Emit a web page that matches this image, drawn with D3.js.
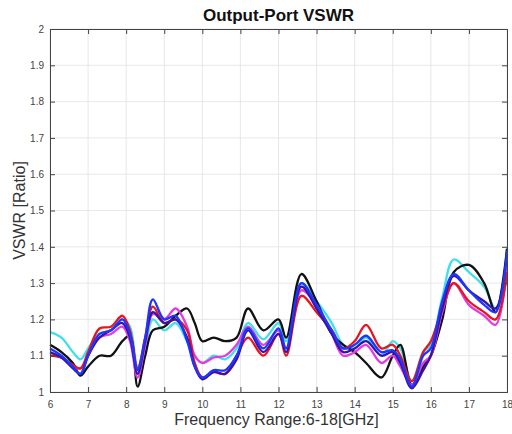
<!DOCTYPE html>
<html>
<head>
<meta charset="utf-8">
<script src="https://cdn.jsdelivr.net/npm/d3@7"></script>
<style>
  body { margin: 0; background: #fff; }
  text { font-family: "Liberation Sans", Arial, sans-serif; }
</style>
</head>
<body>
<div id="chart"></div>
<script>
// frequency points (GHz) shared by all traces
var freq = [6, 6.3, 6.6, 6.8, 7, 7.3, 7.6, 7.9, 8.1, 8.3, 8.5, 8.7, 9, 9.3, 9.6, 9.8, 10, 10.3, 10.6, 10.9,
  11.2, 11.6, 12, 12.2, 12.6, 13, 13.4, 13.7, 14, 14.3, 14.7, 15, 15.2, 15.5, 15.8, 16, 16.3, 16.6, 17, 17.4, 17.7, 18];

var black = [1.13, 1.11, 1.08, 1.045, 1.07, 1.10, 1.10, 1.14, 1.155, 1.015, 1.10, 1.17, 1.18, 1.21, 1.23, 1.19, 1.14, 1.15, 1.14, 1.15,
  1.23, 1.17, 1.20, 1.15, 1.325, 1.25, 1.16, 1.13, 1.11, 1.08, 1.04, 1.10, 1.13, 1.02, 1.07, 1.10, 1.20, 1.33, 1.35, 1.30, 1.22, 1.395];
var red = [1.10, 1.095, 1.075, 1.065, 1.11, 1.175, 1.18, 1.21, 1.17, 1.065, 1.15, 1.235, 1.19, 1.20, 1.17, 1.08, 1.04, 1.055, 1.05, 1.10,
  1.15, 1.10, 1.16, 1.10, 1.265, 1.22, 1.17, 1.12, 1.14, 1.185, 1.12, 1.13, 1.10, 1.03, 1.11, 1.14, 1.23, 1.30, 1.25, 1.22, 1.20, 1.33];
var cyan = [1.165, 1.15, 1.11, 1.09, 1.12, 1.16, 1.17, 1.20, 1.18, 1.07, 1.12, 1.20, 1.17, 1.19, 1.14, 1.10, 1.08, 1.10, 1.09, 1.12,
  1.19, 1.145, 1.19, 1.14, 1.30, 1.25, 1.19, 1.13, 1.12, 1.15, 1.10, 1.14, 1.12, 1.03, 1.11, 1.13, 1.26, 1.365, 1.33, 1.29, 1.23, 1.31];
var blue = [1.12, 1.10, 1.07, 1.05, 1.10, 1.16, 1.17, 1.20, 1.16, 1.06, 1.15, 1.255, 1.20, 1.21, 1.14, 1.07, 1.04, 1.06, 1.06, 1.10,
  1.175, 1.12, 1.175, 1.12, 1.30, 1.24, 1.17, 1.12, 1.13, 1.155, 1.11, 1.115, 1.09, 1.015, 1.10, 1.12, 1.25, 1.325, 1.28, 1.24, 1.22, 1.39];
var magenta = [1.10, 1.095, 1.07, 1.065, 1.10, 1.15, 1.16, 1.18, 1.14, 1.04, 1.13, 1.215, 1.20, 1.23, 1.18, 1.10, 1.08, 1.095, 1.10, 1.13,
  1.18, 1.13, 1.17, 1.12, 1.28, 1.24, 1.16, 1.10, 1.11, 1.13, 1.08, 1.10, 1.07, 1.02, 1.08, 1.10, 1.22, 1.30, 1.24, 1.21, 1.185, 1.34];
var navy = [1.11, 1.095, 1.065, 1.05, 1.10, 1.15, 1.17, 1.19, 1.15, 1.05, 1.14, 1.22, 1.19, 1.20, 1.15, 1.07, 1.035, 1.055, 1.05, 1.09,
  1.17, 1.11, 1.16, 1.11, 1.29, 1.23, 1.16, 1.11, 1.12, 1.14, 1.10, 1.11, 1.08, 1.01, 1.06, 1.10, 1.23, 1.32, 1.28, 1.25, 1.23, 1.38];

var xTicks = [6, 7, 8, 9, 10, 11, 12, 13, 14, 15, 16, 17, 18];
var yTicks = [1, 1.1, 1.2, 1.3, 1.4, 1.5, 1.6, 1.7, 1.8, 1.9, 2];

var series = [
  { name: "cyan", values: cyan, color: "#40e0e6" },
  { name: "black", values: black, color: "#111111" },
  { name: "magenta", values: magenta, color: "#e03ce0" },
  { name: "red", values: red, color: "#e8141e" },
  { name: "navy", values: navy, color: "#3a12a8" },
  { name: "blue", values: blue, color: "#1a36ff" }
];

var svgWidth = 512, svgHeight = 434;
var margin = { top: 29, right: 5, bottom: 42, left: 50 };
var width = svgWidth - margin.left - margin.right;
var height = svgHeight - margin.top - margin.bottom;

var svg = d3.select("#chart").append("svg")
  .attr("width", svgWidth)
  .attr("height", svgHeight);

var g = svg.append("g")
  .attr("transform", `translate(${margin.left}, ${margin.top})`);

var x = d3.scaleLinear().domain([6, 18]).range([0, width]);
var y = d3.scaleLinear().domain([1, 2]).range([height, 0]);

// grid
g.append("g").selectAll("line").data(xTicks).enter().append("line")
  .attr("x1", d => x(d)).attr("x2", d => x(d))
  .attr("y1", 0).attr("y2", height)
  .attr("stroke", "#e2e2e2").attr("stroke-width", 0.8);
g.append("g").selectAll("line").data(yTicks).enter().append("line")
  .attr("y1", d => y(d)).attr("y2", d => y(d))
  .attr("x1", 0).attr("x2", width)
  .attr("stroke", "#e2e2e2").attr("stroke-width", 0.8);

// traces
var line = d3.line()
  .x((d, i) => x(freq[i]))
  .y(d => y(d))
  .curve(d3.curveCatmullRom.alpha(0.5));

var plot = g.append("g");
series.forEach(function (s) {
  plot.append("path")
    .datum(s.values)
    .attr("d", line)
    .attr("fill", "none")
    .attr("stroke", s.color)
    .attr("stroke-width", 2.3)
    .attr("stroke-linejoin", "round");
});

// axes, MATLAB style: ticks inward, box around
var bottomAxis = d3.axisBottom(x).tickValues(xTicks).tickSize(-5).tickPadding(9).tickFormat(d3.format("d"));
var leftAxis = d3.axisLeft(y).tickValues(yTicks).tickSize(-5).tickPadding(6).tickFormat(d => d3.format("")(+d.toFixed(1)));
var topAxis = d3.axisTop(x).tickValues(xTicks).tickSize(-5).tickFormat("");
var rightAxis = d3.axisRight(y).tickValues(yTicks).tickSize(-5).tickFormat("");

function styleAxis(sel) {
  sel.select(".domain").attr("stroke", "#444").attr("stroke-width", 1);
  sel.selectAll(".tick line").attr("stroke", "#444");
  sel.selectAll("text").attr("fill", "#444").attr("font-size", 10);
}

g.append("g").attr("transform", `translate(0, ${height})`).call(bottomAxis).call(styleAxis);
g.append("g").call(leftAxis).call(styleAxis);
g.append("g").call(topAxis).call(styleAxis);
g.append("g").attr("transform", `translate(${width}, 0)`).call(rightAxis).call(styleAxis);

// title and axis labels
svg.append("text")
  .attr("x", margin.left + width / 2)
  .attr("y", 21)
  .attr("text-anchor", "middle")
  .attr("font-size", 17)
  .attr("font-weight", "bold")
  .attr("fill", "#111")
  .text("Output-Port VSWR");

svg.append("text")
  .attr("x", margin.left + width / 2 - 2)
  .attr("y", 425)
  .attr("text-anchor", "middle")
  .attr("font-size", 16)
  .attr("fill", "#333")
  .text("Frequency Range:6-18[GHz]");

svg.append("text")
  .attr("transform", `translate(25, ${margin.top + height / 2}) rotate(-90)`)
  .attr("text-anchor", "middle")
  .attr("font-size", 16)
  .attr("fill", "#333")
  .text("VSWR [Ratio]");
</script>
</body>
</html>
